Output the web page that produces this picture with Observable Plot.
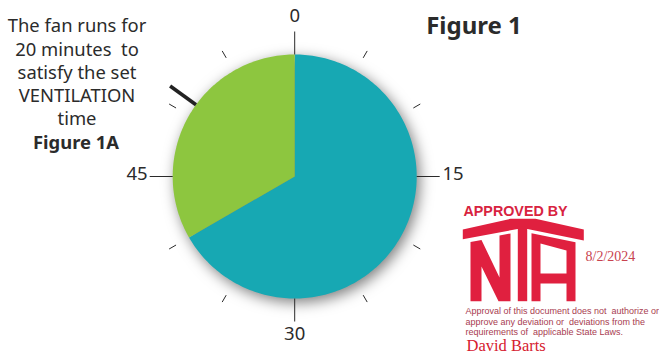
<!DOCTYPE html>
<html><head><meta charset="utf-8">
<script src="https://cdn.jsdelivr.net/npm/d3@7"></script>
<script src="https://cdn.jsdelivr.net/npm/@observablehq/plot@0.6"></script>
<style>html,body{margin:0;padding:0;background:#fff}svg{display:block}</style>
</head><body><div id="chart"></div>
<script>
// Dial values, in minutes
const segmentNames = ["Off", "Fan on"];
const segmentStarts = [0, 40];
const segmentEnds = [40, 60];
const segmentColors = ["#17a8b3", "#8dc63f"];
const majorMinutes = [0, 15, 30, 45];
const minorMinutes = [5, 10, 20, 25, 35, 40, 50, 55];
const pointerMinute = [51];
const majorLabels = ["0", "15", "30", "45"];
const noteLines = ["The fan runs for", "20 minutes  to", "satisfy the set", "VENTILATION", "time"];
const noteTitle = "Figure 1A";
const figureTitle = "Figure 1";
const stampTitle = "APPROVED BY";
const stampDate = "8/2/2024";
const stampLines = ["Approval of this document does not  authorize or", "approve any deviation or  deviations from the", "requirements of  applicable State Laws."];
const stampName = "David Barts";

// Dial geometry
const cx = 294.2, cy = 176, R = 122;
const polar = (m, r) => { const a = m / 60 * 2 * Math.PI; return [cx + r * Math.sin(a), cy - r * Math.cos(a)]; };

const wedgePts = segmentNames.flatMap((name, i) => {
  const pts = [{name, p: [cx, cy]}];
  for (let m = segmentStarts[i]; m <= segmentEnds[i] + 1e-9; m += 0.2) pts.push({name, p: polar(m, R)});
  pts.push({name, p: [cx, cy]});
  return pts;
});
const tick = (m, r0, r1) => { const a = polar(m, r0), b = polar(m, r1); return {x1: a[0], y1: a[1], x2: b[0], y2: b[1]}; };
const majorTicks = majorMinutes.map(m => tick(m, R, R + 23));
const minorTicks = minorMinutes.map(m => tick(m, R + 15, R + 23));
const pointer = pointerMinute.map(m => tick(m, R, R + 32));

// NTA stamp outline
const stampRed = "#e0203f";
const logo = [
  {k: "roof", c: stampRed, pts: [[462.3,229],[510,218.3],[535,218.3],[583.3,229],[583.3,240],[527,228.5],[517,228.5],[462.3,238.8]]},
  {k: "N", c: stampRed, pts: [[470,241.5],[481,239.5],[499,277],[499,235],[510,233],[510,300.7],[498,300.7],[481,266],[481,300.7],[470,300.7]]},
  {k: "T", c: stampRed, pts: [[517.3,226],[526.7,226],[526.7,300.7],[517.3,300.7]]},
  {k: "A", c: stampRed, pts: [[531,232.7],[575,241.7],[575,300.7],[566,300.7],[566,283],[540,283],[540,300.7],[531,300.7]]},
  {k: "Acounter", c: "#fff", pts: [[540,243],[566,250],[566,273],[540,273]]}
].flatMap(s => s.pts.map(p => ({k: s.k, c: s.c, p})));

const shadow = (index, scales, values, dims, ctx, next) => {
  const g = next(index, scales, values, dims, ctx);
  g.style.filter = "drop-shadow(3px 4px 7px rgba(0,0,0,0.5))";
  return g;
};

const uiFont = "'Noto Sans'";
const labelAt = [[294.2, 21], [452.5, 179], [294.2, 339], [136.5, 179]];
const labels = majorLabels.map((t, i) => ({t, x: labelAt[i][0], y: labelAt[i][1]}));

const plot = Plot.plot({
  width: 659, height: 352,
  marginTop: 0, marginRight: 0, marginBottom: 0, marginLeft: 0,
  style: {background: "#fff", overflow: "hidden"},
  x: {domain: [0, 659], range: [0, 659], axis: null},
  y: {domain: [0, 352], range: [0, 352], axis: null},
  color: {type: "ordinal", domain: segmentNames, range: segmentColors},
  marks: [
    Plot.line(wedgePts, {x: d => d.p[0], y: d => d.p[1], z: "name", fill: "name", stroke: "none", render: shadow}),
    Plot.link(majorTicks, {x1: "x1", y1: "y1", x2: "x2", y2: "y2", stroke: "#2a2a2a", strokeWidth: 1}),
    Plot.link(minorTicks, {x1: "x1", y1: "y1", x2: "x2", y2: "y2", stroke: "#2a2a2a", strokeWidth: 1}),
    Plot.link(pointer, {x1: "x1", y1: "y1", x2: "x2", y2: "y2", stroke: "#222", strokeWidth: 3.6}),
    Plot.text(labels, {x: "x", y: "y", text: "t", fontFamily: uiFont, fontSize: 18.5, fill: "#2b2b2b", lineAnchor: "bottom"}),
    Plot.text(noteLines, {x: () => 76.5, y: (d, i) => [31, 55, 78, 101.5, 124.5][i], text: d => d, fontFamily: uiFont, fontSize: 18.4, fill: "#2b2b2b", lineAnchor: "bottom"}),
    Plot.text([noteTitle], {x: () => 75.5, y: () => 148, text: d => d, fontFamily: uiFont, fontWeight: "bold", fontSize: 18.4, fill: "#2b2b2b", lineAnchor: "bottom"}),
    Plot.text([figureTitle], {x: () => 473.5, y: () => 33, text: d => d, fontFamily: uiFont, fontWeight: "bold", fontSize: 24, fill: "#2b2b2b", lineAnchor: "bottom"}),
    Plot.line(logo, {x: d => d.p[0], y: d => d.p[1], z: "k", fill: "c", stroke: "none"}),
    Plot.text([stampTitle], {x: () => 463, y: () => 215, text: d => d, textAnchor: "start", fontFamily: "'Liberation Sans'", fontWeight: "bold", fontSize: 14.3, fill: "#d8233f", lineAnchor: "bottom"}),
    Plot.text([stampDate], {x: () => 585, y: () => 260, text: d => d, textAnchor: "start", fontFamily: "'Liberation Serif'", fontSize: 14, fill: "#c8434f", lineAnchor: "bottom"}),
    Plot.text(stampLines, {x: () => 465, y: (d, i) => [313, 324, 334.5][i], text: d => d, textAnchor: "start", fontFamily: "'Liberation Sans'", fontSize: 9, fill: "#a83c50", lineAnchor: "bottom"}),
    Plot.text([stampName], {x: () => 466, y: () => 350, text: d => d, textAnchor: "start", fontFamily: "'Liberation Serif'", fontSize: 16.5, fill: "#d6202f", lineAnchor: "bottom"})
  ]
});
document.getElementById("chart").append(plot);
</script></body></html>
